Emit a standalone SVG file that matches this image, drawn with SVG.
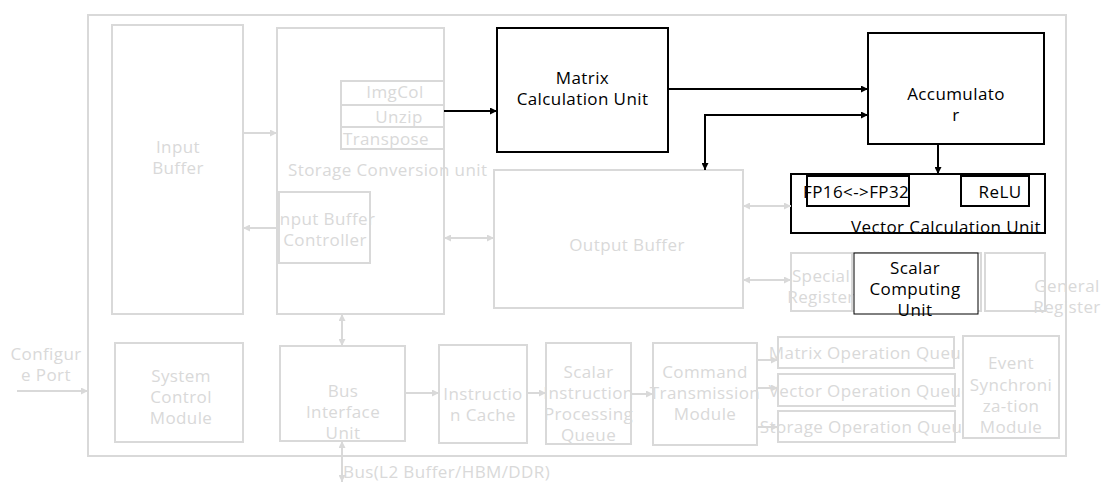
<svg xmlns="http://www.w3.org/2000/svg" width="1101" height="482" viewBox="0 0 1101 482">
<style>
text{font-family:"Open Sans","Noto Sans","Liberation Sans",sans-serif;font-size:17px;letter-spacing:0.4px}
.g{fill:#d9d9d9}
.k{fill:#000}
.m{text-anchor:middle}
.gb{fill:#fff;stroke:#d9d9d9;stroke-width:2}
.kb{fill:#fff;stroke:#000;stroke-width:2}
.gl{fill:none;stroke:#d9d9d9;stroke-width:2}
.kl{fill:none;stroke:#000;stroke-width:2}
</style>
<defs>
<marker id="ak" viewBox="0 0 10 10" refX="10" refY="5" markerWidth="8" markerHeight="7" markerUnits="userSpaceOnUse" orient="auto-start-reverse"><path d="M0,0 L10,5 L0,10 z" fill="#000"/></marker>
<marker id="ag" viewBox="0 0 10 10" refX="10" refY="5" markerWidth="8" markerHeight="7" markerUnits="userSpaceOnUse" orient="auto-start-reverse"><path d="M0,0 L10,5 L0,10 z" fill="#d9d9d9"/></marker>
</defs>
<rect width="1101" height="482" fill="#fff"/>
<g id="outer"><rect class="gb" x="88" y="15" width="978" height="441"/></g>
<g id="input-buffer"><rect class="gb" x="112" y="25" width="131" height="289"/><text class="g m" x="178" y="153">Input</text><text class="g m" x="178" y="174">Buffer</text></g>
<g id="storage-conversion"><rect class="gb" x="277" y="28" width="167" height="286"/><text class="g" x="288" y="176">Storage Conversion unit</text></g>
<g id="imgcol"><rect class="gb" x="341" y="81" width="103" height="24"/><text class="g m" x="395" y="98">ImgCol</text></g>
<g id="unzip"><rect class="gb" x="341" y="105" width="103" height="22"/><text class="g m" x="399" y="123">Unzip</text></g>
<g id="transpose"><rect class="gb" x="341" y="127" width="103" height="22"/><text class="g m" x="386" y="145">Transpose</text></g>
<g id="input-buffer-controller"><rect class="gb" x="279" y="192" width="91" height="71"/><text class="g m" x="325" y="225">Input Buffer</text><text class="g m" x="325" y="246">Controller</text></g>
<g id="output-buffer"><rect class="gb" x="494" y="170" width="249" height="138"/><text class="g m" x="627" y="251">Output Buffer</text></g>
<g id="matrix-unit"><rect class="kb" x="497" y="28" width="171" height="124"/><text class="k m" x="582.5" y="84">Matrix</text><text class="k m" x="582.5" y="105">Calculation Unit</text></g>
<g id="accumulator"><rect class="kb" x="868" y="33" width="176" height="111"/><text class="k m" x="956" y="100">Accumulato</text><text class="k m" x="956" y="121">r</text></g>
<g id="vector-unit"><rect class="kb" x="791" y="174" width="254" height="59"/><rect class="kl" x="807" y="176" width="102" height="30"/><rect class="kl" x="961" y="176" width="68" height="30"/><text class="k" x="803" y="198">FP16&lt;-&gt;FP32</text><text class="k m" x="1000" y="198">ReLU</text><text class="k" x="851" y="233">Vector Calculation Unit</text></g>
<g id="special-register"><rect class="gb" x="791" y="253" width="61" height="58"/><rect class="gb" x="852" y="253" width="129" height="58"/><text class="g m" x="821" y="282">Special</text><text class="g m" x="821" y="303">Register</text></g>
<g id="general-register"><rect class="gb" x="985" y="253" width="60" height="58"/><text class="g m" x="1067" y="292">General</text><text class="g m" x="1067" y="313">Register</text></g>
<g id="scalar-unit"><rect x="854" y="253" width="124" height="61" fill="#fff" stroke="#000" stroke-width="1"/><text class="k m" x="915" y="274">Scalar</text><text class="k m" x="915" y="295">Computing</text><text class="k m" x="915" y="316">Unit</text></g>
<g id="configure-port"><text class="g m" x="46" y="360">Configur</text><text class="g m" x="46" y="381">e Port</text></g>
<g id="system-control"><rect class="gb" x="115" y="343" width="128" height="99"/><text class="g m" x="181" y="382">System</text><text class="g m" x="181" y="403">Control</text><text class="g m" x="181" y="424">Module</text></g>
<g id="bus-interface"><rect class="gb" x="280" y="346" width="125" height="95"/><text class="g m" x="343" y="397">Bus</text><text class="g m" x="343" y="418">Interface</text><text class="g m" x="343" y="439">Unit</text></g>
<g id="instruction-cache"><rect class="gb" x="439" y="345" width="88" height="98"/><text class="g m" x="483" y="400">Instructio</text><text class="g m" x="483" y="421">n Cache</text></g>
<g id="scalar-queue"><rect class="gb" x="546" y="343" width="85" height="101"/><text class="g m" x="588.5" y="378">Scalar</text><text class="g m" x="588.5" y="399">Instruction</text><text class="g m" x="588.5" y="420">Processing</text><text class="g m" x="588.5" y="441">Queue</text></g>
<g id="command-module"><rect class="gb" x="653" y="343" width="104" height="102"/><text class="g m" x="705" y="378">Command</text><text class="g m" x="705" y="399">Transmission</text><text class="g m" x="705" y="420">Module</text></g>
<g id="matrix-queue"><rect class="gb" x="778" y="337" width="176" height="31"/><text class="g m" x="870" y="359">Matrix Operation Queue</text></g>
<g id="vector-queue"><rect class="gb" x="778" y="374" width="177" height="32"/><text class="g m" x="870" y="397">Vector Operation Queue</text></g>
<g id="storage-queue"><rect class="gb" x="778" y="411" width="177" height="31"/><text class="g m" x="866" y="433">Storage Operation Queue</text></g>
<g id="event-sync"><rect class="gb" x="963" y="336" width="96" height="102"/><text class="g m" x="1011" y="369">Event</text><text class="g m" x="1011" y="391">Synchroni</text><text class="g m" x="1011" y="412">za-tion</text><text class="g m" x="1011" y="433">Module</text></g>
<g id="bus-label"><text class="g" x="343" y="478">Bus(L2 Buffer/HBM/DDR)</text></g>
<g id="connectors">
<path class="gl" d="M243,133 H277" marker-end="url(#ag)"/>
<path class="gl" d="M279,228 H243" marker-end="url(#ag)"/>
<path class="gl" d="M444,238 H494" marker-start="url(#ag)" marker-end="url(#ag)"/>
<path class="gl" d="M743,206 H791" marker-start="url(#ag)" marker-end="url(#ag)"/>
<path class="gl" d="M743,280 H791" marker-start="url(#ag)" marker-end="url(#ag)"/>
<path class="gl" d="M342,314 V346" marker-start="url(#ag)" marker-end="url(#ag)"/>
<path class="gl" d="M342,441 V482" marker-start="url(#ag)" marker-end="url(#ag)"/>
<path class="gl" d="M17,391 H88" marker-end="url(#ag)"/>
<path class="gl" d="M405,393 H439" marker-end="url(#ag)"/>
<path class="gl" d="M527,393 H546" marker-end="url(#ag)"/>
<path class="gl" d="M631,394 H653" marker-end="url(#ag)"/>
<path class="gl" d="M757,360 H778" marker-end="url(#ag)"/>
<path class="gl" d="M757,388 H778" marker-end="url(#ag)"/>
<path class="gl" d="M757,427 H778" marker-end="url(#ag)"/>
<path class="kl" d="M444,111 H497" marker-end="url(#ak)"/>
<path class="kl" d="M668,89 H868" marker-end="url(#ak)"/>
<path class="kl" d="M705,170 V115 H868" marker-start="url(#ak)" marker-end="url(#ak)"/>
<path class="kl" d="M938,144 V174" marker-end="url(#ak)"/>
</g>
</svg>
